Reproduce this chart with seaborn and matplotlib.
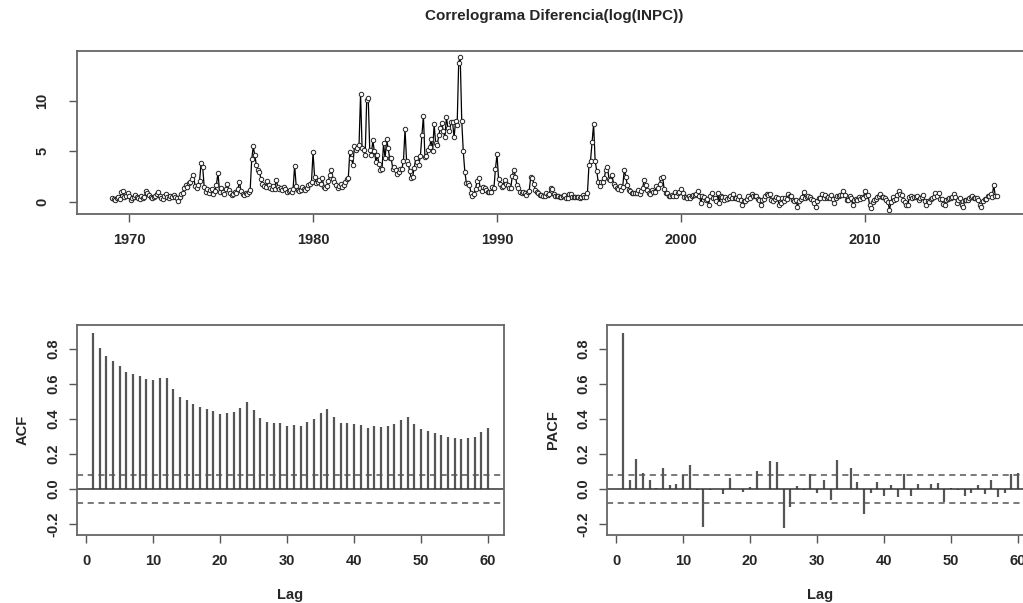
import numpy as np
import pandas as pd
import matplotlib
matplotlib.use("Agg")
import matplotlib.pyplot as plt
import seaborn as sns

# Diferencia log(INPC) * 100, mensual desde feb-1969 hasta mar-2017
y1969 = [0.4, 0.3, 0.2, 0.4, 0.5, 0.3, 1.0, 1.1, 0.5, 0.6, 0.9]
y1970 = [0.6, 0.2, 0.4, 0.5, 0.7, 0.5, 0.4, 0.3, 0.6, 0.4, 0.5, 1.1]
y1971 = [0.9, 0.7, 0.5, 0.4, 0.5, 0.6, 0.8, 1.0, 0.6, 0.4, 0.3, 0.6]
y1972 = [0.8, 0.5, 0.4, 0.6, 0.5, 0.7, 0.5, 0.4, 0.1, 0.5, 0.8, 0.9]
y1973 = [1.4, 1.7, 1.5, 1.9, 2.0, 2.3, 2.7, 1.6, 1.4, 1.7, 2.1, 3.9]
y1974 = [3.5, 1.5, 1.0, 1.3, 0.9, 1.2, 1.3, 0.8, 1.1, 1.7, 2.9, 1.0]
y1975 = [1.4, 1.0, 0.8, 1.3, 1.8, 1.2, 0.9, 0.7, 0.8, 1.0, 0.9, 1.3]
y1976 = [2.0, 1.1, 0.8, 0.7, 0.9, 0.8, 1.0, 1.2, 4.2, 5.5, 4.6, 3.7]
y1977 = [3.2, 3.0, 2.3, 1.8, 1.6, 1.5, 2.1, 1.7, 1.4, 1.3, 1.6, 1.3]
y1978 = [2.2, 1.5, 1.3, 1.4, 1.2, 1.5, 1.3, 1.0, 1.1, 1.2, 1.0, 1.3]
y1979 = [3.6, 1.6, 1.2, 1.1, 1.2, 1.5, 1.3, 1.2, 1.4, 1.7, 1.8, 2.0]
y1980 = [4.9, 2.5, 1.9, 2.0, 2.2, 1.8, 2.4, 1.5, 1.4, 1.6, 2.1, 2.7]
y1981 = [3.2, 2.3, 2.0, 1.7, 1.4, 1.6, 1.8, 1.5, 1.7, 2.0, 2.3, 2.4]
y1982 = [4.9, 4.3, 3.7, 5.5, 5.1, 5.3, 5.6, 10.7, 5.3, 5.1, 4.6, 10.1]
y1983 = [10.3, 5.1, 4.6, 6.1, 5.0, 4.0, 4.6, 3.8, 3.2, 3.3, 5.8, 4.3]
y1984 = [6.2, 5.3, 4.3, 4.3, 3.3, 3.5, 3.2, 2.8, 3.0, 3.3, 3.3, 4.1]
y1985 = [7.2, 4.1, 3.8, 3.1, 2.4, 2.5, 3.4, 4.3, 4.0, 3.7, 4.5, 6.6]
y1986 = [8.5, 4.4, 4.5, 5.1, 5.4, 6.2, 5.0, 7.7, 5.8, 5.6, 6.6, 7.3]
y1987 = [7.8, 7.0, 6.4, 8.4, 7.3, 7.0, 7.9, 7.9, 6.4, 8.0, 7.6, 13.8]
y1988 = [14.4, 8.0, 5.0, 3.0, 1.9, 1.9, 1.7, 0.9, 0.6, 0.8, 1.3, 2.1]
y1989 = [2.4, 1.4, 1.1, 1.5, 1.4, 1.2, 1.0, 1.0, 1.0, 1.5, 1.4, 3.3]
y1990 = [4.7, 2.3, 1.8, 1.5, 1.6, 2.2, 1.8, 1.7, 1.4, 1.4, 2.6, 3.2]
y1991 = [2.5, 1.7, 1.4, 1.0, 0.9, 1.0, 0.9, 0.7, 1.0, 1.1, 2.5, 2.4]
y1992 = [1.8, 1.2, 1.0, 0.9, 0.7, 0.7, 0.6, 0.6, 0.9, 0.7, 0.8, 1.4]
y1993 = [1.3, 0.8, 0.6, 0.6, 0.6, 0.5, 0.5, 0.6, 0.7, 0.4, 0.4, 0.8]
y1994 = [0.8, 0.5, 0.5, 0.5, 0.5, 0.5, 0.4, 0.5, 0.7, 0.5, 0.5, 0.9]
y1995 = [3.7, 4.1, 5.9, 7.7, 4.1, 3.1, 2.0, 1.6, 2.0, 2.0, 2.4, 3.2]
y1996 = [3.5, 2.3, 2.2, 2.7, 1.8, 1.6, 1.4, 1.3, 1.6, 1.2, 1.5, 3.2]
y1997 = [2.5, 1.7, 1.2, 1.1, 0.9, 0.9, 0.9, 0.9, 1.2, 0.8, 1.1, 1.4]
y1998 = [2.2, 1.7, 1.2, 0.9, 0.8, 1.2, 1.0, 1.0, 1.6, 1.4, 1.8, 2.4]
y1999 = [2.5, 1.3, 0.9, 0.9, 0.6, 0.6, 0.7, 0.6, 1.0, 0.6, 0.9, 1.0]
y2000 = [1.3, 0.9, 0.5, 0.5, 0.4, 0.6, 0.4, 0.6, 0.7, 0.7, 0.8, 1.1]
y2001 = [0.6, -0.1, 0.6, 0.5, 0.2, 0.3, -0.3, 0.6, 0.9, 0.4, 0.4, 0.1]
y2002 = [0.9, -0.1, 0.6, 0.5, 0.2, 0.5, 0.3, 0.4, 0.6, 0.4, 0.8, 0.4]
y2003 = [0.4, 0.3, 0.6, 0.2, -0.3, 0.1, 0.1, 0.3, 0.6, 0.4, 0.8, 0.6]
y2004 = [0.6, 0.6, 0.3, 0.2, -0.3, 0.2, 0.3, 0.6, 0.8, 0.7, 0.8, 0.2]
y2005 = [0.1, 0.3, 0.5, 0.4, -0.3, -0.1, 0.4, 0.1, 0.4, 0.3, 0.8, 0.6]
y2006 = [0.6, 0.2, 0.1, 0.2, -0.5, 0.1, 0.3, 0.5, 1.0, 0.4, 0.5, 0.6]
y2007 = [0.5, 0.3, 0.2, -0.1, -0.5, 0.1, 0.4, 0.4, 0.8, 0.4, 0.7, 0.4]
y2008 = [0.5, 0.4, 0.7, 0.3, -0.1, 0.4, 0.6, 0.6, 0.7, 0.7, 1.1, 0.7]
y2009 = [0.2, 0.2, 0.6, 0.4, -0.3, 0.2, 0.3, 0.2, 0.5, 0.3, 0.5, 0.4]
y2010 = [1.1, 0.6, 0.7, -0.3, -0.6, 0.0, 0.2, 0.3, 0.5, 0.6, 0.8, 0.5]
y2011 = [0.5, 0.4, 0.2, 0.0, -0.8, 0.0, 0.5, 0.2, 0.3, 0.7, 1.1, 0.8]
y2012 = [0.7, 0.2, 0.0, -0.3, -0.3, 0.5, 0.6, 0.4, 0.5, 0.5, 0.6, 0.2]
y2013 = [0.4, 0.5, 0.7, 0.1, -0.3, 0.1, 0.0, 0.3, 0.4, 0.5, 0.9, 0.6]
y2014 = [0.9, 0.3, 0.3, -0.2, -0.3, 0.2, 0.3, 0.4, 0.4, 0.5, 0.8, 0.5]
y2015 = [-0.1, 0.2, 0.4, -0.3, -0.5, 0.2, 0.2, 0.2, 0.4, 0.5, 0.6, 0.4]
y2016 = [0.4, 0.4, 0.2, -0.3, -0.5, 0.1, 0.3, 0.3, 0.6, 0.6, 0.8, 0.5]
y2017 = [1.7, 0.6, 0.6]

years_data = [y1969, y1970, y1971, y1972, y1973, y1974, y1975, y1976, y1977,
              y1978, y1979, y1980, y1981, y1982, y1983, y1984, y1985, y1986,
              y1987, y1988, y1989, y1990, y1991, y1992, y1993, y1994, y1995,
              y1996, y1997, y1998, y1999, y2000, y2001, y2002, y2003, y2004,
              y2005, y2006, y2007, y2008, y2009, y2010, y2011, y2012, y2013,
              y2014, y2015, y2016, y2017]
serie = [v for anio in years_data for v in anio]
start_year, start_month = 1969, 2

lags = list(range(1, 61))
acf_vals = [0.891, 0.803, 0.758, 0.729, 0.700, 0.666, 0.655, 0.643, 0.626, 0.620,
            0.632, 0.632, 0.573, 0.527, 0.510, 0.487, 0.469, 0.458, 0.447, 0.429,
            0.435, 0.441, 0.464, 0.498, 0.452, 0.406, 0.384, 0.378, 0.378, 0.361,
            0.366, 0.361, 0.384, 0.401, 0.435, 0.458, 0.412, 0.378, 0.378, 0.372,
            0.366, 0.349, 0.361, 0.355, 0.361, 0.372, 0.395, 0.412, 0.372, 0.344,
            0.332, 0.321, 0.309, 0.298, 0.292, 0.286, 0.292, 0.298, 0.326, 0.349]
pacf_vals = [0.891, 0.052, 0.172, 0.090, 0.053, 0.008, 0.118, 0.023, 0.027, 0.082,
             0.135, -0.008, -0.216, -0.008, 0.002, -0.031, 0.061, 0.002, -0.015, 0.013,
             0.101, 0.002, 0.158, 0.153, -0.221, -0.101, 0.017, -0.008, 0.084, -0.021,
             0.053, -0.061, 0.164, 0.002, 0.118, 0.038, -0.141, -0.021, 0.038, -0.038,
             0.021, -0.044, 0.084, -0.038, 0.027, 0.002, 0.027, 0.032, -0.073, 0.008,
             -0.006, -0.038, -0.021, 0.021, -0.027, 0.053, -0.044, -0.021, 0.084, 0.094]

n_obs = len(serie)
ci = 1.96 / np.sqrt(n_obs)

tiempo = [start_year + (start_month - 1 + i) / 12 for i in range(n_obs)]
df = pd.DataFrame({'tiempo': tiempo, 'valor': serie})

sns.set_style('white')
plt.rcParams['font.family'] = ['Liberation Sans', 'DejaVu Sans']
plt.rcParams['font.weight'] = 'bold'

gris = '#555555'
fig = plt.figure(figsize=(10.23, 6.03), dpi=100)

W, H = 1023, 603
def px_axes(left, top, right, bottom):
    return fig.add_axes([left / W, 1 - bottom / H, (right - left) / W, (bottom - top) / H])

ax_top = px_axes(77, 51, 1032, 214)
ax_acf = px_axes(77, 325, 504, 535)
ax_pacf = px_axes(607, 325, 1034, 535)

# serie de tiempo
sns.lineplot(data=df, x='tiempo', y='valor', ax=ax_top, color='black', linewidth=0.9,
             marker='o', markersize=3.2, markerfacecolor='white', markeredgecolor='#222222',
             markeredgewidth=0.7)
ax_top.set_xlim(1967.17, 2019.08)
ax_top.set_ylim(-1.2, 14.95)
ax_top.set_xticks([1970, 1980, 1990, 2000, 2010])
ax_top.set_yticks([0, 5, 10])
ax_top.set_xlabel('')
ax_top.set_ylabel('')

def acf_panel(ax, vals, label):
    ax.vlines(lags, 0, vals, color=gris, linewidth=1.6)
    ax.axhline(0, color='#333333', linewidth=1.1)
    ax.axhline(ci, color=gris, linewidth=1.1, linestyle=(0, (4, 3)))
    ax.axhline(-ci, color=gris, linewidth=1.1, linestyle=(0, (4, 3)))
    ax.set_xlim(-1.36, 62.36)
    ax.set_ylim(-0.263, 0.937)
    ax.set_xticks([0, 10, 20, 30, 40, 50, 60])
    ax.set_yticks([-0.2, 0.0, 0.2, 0.4, 0.6, 0.8])
    ax.set_yticklabels(['-0.2', '0.0', '0.2', '0.4', '0.6', '0.8'])
    ax.set_xlabel('Lag', fontsize=10.5, fontweight='bold', labelpad=14)
    ax.set_ylabel(label, fontsize=10.5, fontweight='bold', labelpad=12)

acf_panel(ax_acf, acf_vals, 'ACF')
acf_panel(ax_pacf, pacf_vals, 'PACF')

for ax in (ax_top, ax_acf, ax_pacf):
    for s in ax.spines.values():
        s.set_visible(True)
        s.set_color('#666666')
        s.set_linewidth(1.3)
    ax.tick_params(axis='both', direction='out', length=6, width=1, color='#555555',
                   labelsize=10.5, left=True, bottom=True, pad=6)
    ax.tick_params(axis='x', pad=8)
    for lab in ax.get_yticklabels():
        lab.set_rotation(90)
        lab.set_va('center')
    for lab in ax.get_xticklabels() + ax.get_yticklabels():
        lab.set_fontweight('bold')
    ax.grid(False)

ax_top.tick_params(axis='y', pad=14)

fig.text(554 / W, 1 - 16 / H, 'Correlograma Diferencia(log(INPC))', ha='center', va='center',
         fontsize=11, fontweight='bold')

fig.savefig('out.png', dpi=100)
